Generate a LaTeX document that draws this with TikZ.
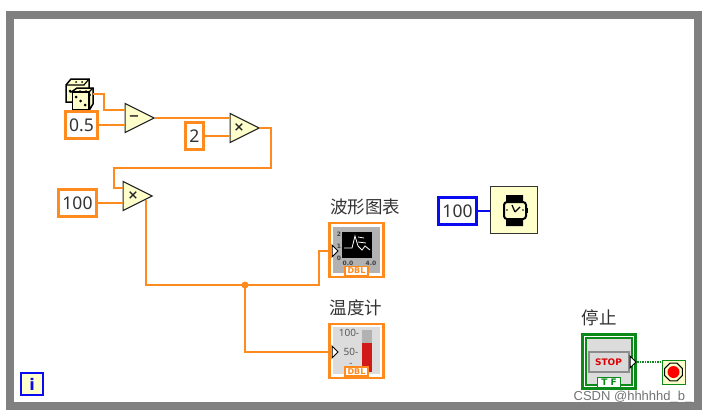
\documentclass[tikz,border=0pt]{standalone}
\usepackage{fontspec}
\setmainfont{Noto Sans}
\newfontfamily\cjk{Noto Sans CJK SC}
\newfontfamily\wmfont{Liberation Sans}
\newfontfamily\heavy{DejaVu Sans Bold}
\usepackage{xcolor}
\usetikzlibrary{arrows.meta, positioning, shapes.geometric}

\definecolor{wireorange}{HTML}{FF8A1E}
\definecolor{lvblue}{HTML}{0A0AF0}
\definecolor{lvgreen}{HTML}{0B8A1A}
\definecolor{paleyellow}{HTML}{FFFFCC}
\definecolor{framegray}{HTML}{808080}
\definecolor{panelgray}{HTML}{DCDCDC}

\begin{document}
\begin{tikzpicture}[
  x=1pt, y=-1pt,
  wire/.style={wireorange, line width=1.5pt},
  constant/.style={rectangle, draw=wireorange, fill=white, line width=3pt, minimum height=27pt, inner sep=0pt, font=\fontsize{17.5}{17.5}\selectfont, text=black!80},
  arith/.style={isosceles triangle, isosceles triangle apex angle=88, isosceles triangle stretches, shape border rotate=0, draw=black!85, fill=paleyellow, line width=1.2pt, minimum width=29pt, minimum height=29pt, inner sep=0pt, anchor=apex},
  opsign/.style={font=\heavy\fontsize{13}{13}\selectfont, inner sep=0pt, text=black!85},
  terminal/.style={rectangle, draw=wireorange, fill=white, line width=2.5pt, minimum width=54pt, minimum height=54pt, inner sep=0pt},
  dbltag/.style={rectangle, draw=wireorange, fill=white, line width=1.5pt, minimum width=23pt, minimum height=9pt, inner sep=0pt, text=wireorange, font=\heavy\fontsize{8}{8}\selectfont},
  inmark/.style={fill=white, draw=black, line width=1pt},
  caption/.style={font=\cjk\fontsize{17.5}{17.5}\selectfont, text=black!80, inner sep=0pt},
  tiny/.style={font=\heavy\fontsize{6}{6}\selectfont, text=black!75, inner sep=0pt},
  scalemark/.style={font=\fontsize{10}{10}\selectfont, text=black!65, inner sep=0pt}
]
\useasboundingbox (0,0) rectangle (703,412);
\fill[white] (0,0) rectangle (703,412);

% loop frame
\node[rectangle, draw=framegray, line width=8pt, minimum width=688pt, minimum height=391pt, inner sep=0pt] (loopframe) at (353.5,210.5) {};
\node[rectangle, draw=lvblue, fill=paleyellow, line width=2.5pt, minimum width=22pt, minimum height=22pt, inner sep=0pt, text=lvblue, font=\heavy\fontsize{16}{16}\selectfont] (iter) at (32,384) {i};

% random number
\draw[black, fill=paleyellow, line width=1.5pt] (66,85) -- (71,79) -- (89,79) -- (89,90) -- (72,102) -- (66,102) -- cycle;
\draw[black, line width=1.2pt] (66,85) -- (84,85) -- (89,79);
\fill[black] (70,91) circle (1.5pt) (75,96) circle (1.5pt) (76,82) circle (1pt) (82,82) circle (1pt);
\node[rectangle, draw=black, fill=paleyellow, line width=1.5pt, minimum width=16pt, minimum height=17pt, inner sep=0pt] (dice) at (80.5,101) {};
\draw[black, fill=paleyellow, line width=1.5pt] (dice.north west) -- (77,88) -- (93,88) -- (93,104) -- (dice.south east) -- (dice.north east) -- cycle;
\draw[black, line width=1.2pt] (dice.north east) -- (93,88);
\fill[black] (76,97) circle (1.5pt) (80.5,101) circle (1.5pt) (85,105) circle (1.5pt) (90,95) circle (1pt) (80,91) circle (.9pt) (86,91) circle (.9pt);
\coordinate (diceout) at (93,94);

% arithmetic
\node[constant, minimum width=32pt] (half) at (81.5,125) {0.5};
\node[arith] (sub) at (155,118) {};
\node[opsign] at (134,118) {−};
\node[constant, minimum width=18pt] (two) at (194.5,136) {2};
\node[arith] (mulA) at (260,128) {};
\node[opsign] at (239,128) {×};
\node[constant, minimum width=38pt] (hundred) at (77.5,203) {100};
\node[arith] (mulB) at (153,196) {};
\node[opsign] at (133,196) {×};
\coordinate (mulBout) at (146,200);
\coordinate (split) at (245,285);

% chart terminal
\node[caption] (chartname) at (365,207) {波形图表};
\node[terminal] (chart) at (356.5,250) {};
\fill[black!30] (333,227) rectangle (380,273);
\fill[black] (342,232) rectangle (372,258);
\draw[white, line width=.8pt] (344,248) -- (352,248) -- (355,236) -- (358,246) -- (362,250) -- (365,246) -- (370,250);
\draw[white, line width=.8pt] (358,237) -- (364,238) (358,242) -- (366,243);
\node[tiny] at (339,234) {2};
\node[tiny] at (339,246) {1};
\node[tiny] at (339,258) {0};
\node[tiny] at (348,263) {0.0};
\node[tiny] at (371,263) {4.0};
\node[dbltag] (chartdbl) at (356.5,271) {DBL};
\draw[inmark] (332,245) -- (338,251) -- (332,257) -- cycle;
\coordinate (chartin) at (331,251);

% thermometer terminal
\node[caption] (thermname) at (356,308) {温度计};
\node[terminal] (therm) at (356.5,351) {};
\fill[panelgray] (333,327) rectangle (380,374);
\fill[black!30] (362,330) rectangle (372,343);
\fill[red!80!black!90!white] (362,343) rectangle (372,372);
\node[scalemark] at (349,333) {100-};
\node[scalemark] at (351,352) {50-};
\node[scalemark] at (351,365) {-};
\node[dbltag] (thermdbl) at (356.5,371.5) {DBL};
\draw[inmark] (332,346) -- (338,352) -- (332,358) -- cycle;
\coordinate (thermin) at (331,352);

% wait timer
\node[constant, draw=lvblue, minimum width=38pt] (waitms) at (457.5,211) {100};
\node[rectangle, draw=black!80, fill=paleyellow, line width=1.2pt, minimum width=47pt, minimum height=47pt, inner sep=0pt] (wait) at (514,210) {};
\fill[black] (506,195) rectangle (523,203) (506,218) rectangle (523,226);
\draw[black, fill=paleyellow, line width=2pt, rounded corners=3pt] (504,202) rectangle (526,219);
\fill[black] (526,208) rectangle (528,213);
\draw[black, line width=1.2pt] (515,212) -- (512,205) (515,212) -- (520,207);
\fill[black] (507,210) circle (.8pt) (523,210) circle (.8pt);

% stop terminal
\node[caption] (stopname) at (599,318) {停止};
\node[rectangle, draw=lvgreen, fill=white, line width=3pt, minimum width=53pt, minimum height=54pt, inner sep=0pt] (stopbtn) at (609,361.5) {};
\draw[lvgreen, fill=panelgray, line width=1.5pt] (586,338) rectangle (632,385);
\node[rectangle, draw=black!45, fill=black!15, line width=2pt, minimum width=40pt, minimum height=20pt, inner sep=0pt, text=red!85!black, font=\heavy\fontsize{9}{9}\selectfont] (stoplabel) at (608.5,362) {STOP};
\node[rectangle, draw=lvgreen, fill=white, line width=1.5pt, minimum width=23pt, minimum height=10pt, inner sep=0pt, text=lvgreen, font=\heavy\fontsize{9}{9}\selectfont] (stoptf) at (609,382.5) {T F};
\draw[inmark] (630,356) -- (636,362) -- (630,368) -- cycle;
\coordinate (stopout) at (637,362);
\node[rectangle, draw=lvgreen, fill=paleyellow, line width=1pt, minimum width=23pt, minimum height=24pt, inner sep=0pt] (stopcond) at (673.5,372) {};
\node[regular polygon, regular polygon sides=8, draw=black, fill=paleyellow, line width=1pt, minimum size=19pt, inner sep=0pt] (stopring) at (stopcond) {};
\node[circle, fill=red, minimum size=12pt, inner sep=0pt] (stopdot) at (stopcond) {};

% wires
\draw[wire] (diceout) -- ++(11,0) |- (sub.left corner |- 0,110);
\draw[wire] (half.east) -- (half.east -| sub.left corner);
\draw[wire] (sub.apex) -- (mulA.left corner |- sub.apex);
\draw[wire] (two.east) -- (two.east -| mulA.left corner);
\draw[wire] (mulA.apex) -- ++(11,0) |- (114,168) |- (mulB.left corner |- 0,188);
\draw[wire] (hundred.east) -- (hundred.east -| mulB.left corner);
\draw[wire] (mulBout) |- (split);
\draw[wire] (split) -- (319,285) |- (chartin);
\draw[wire] (split) |- (thermin);
\fill[wireorange] (split) circle (3.5pt);
\draw[lvblue, line width=1.5pt] (waitms.east) -- (waitms.east -| wait.west);
\draw[lvgreen, line width=1.5pt, densely dotted] (stopout) -- (stopcond.west |- stopout);

\node[font=\wmfont\fontsize{13}{13}\selectfont, text=black!55, inner sep=0pt] (mark) at (633,397) {CSDN @hhhhhd\_b\_};
\end{tikzpicture}
\end{document}
